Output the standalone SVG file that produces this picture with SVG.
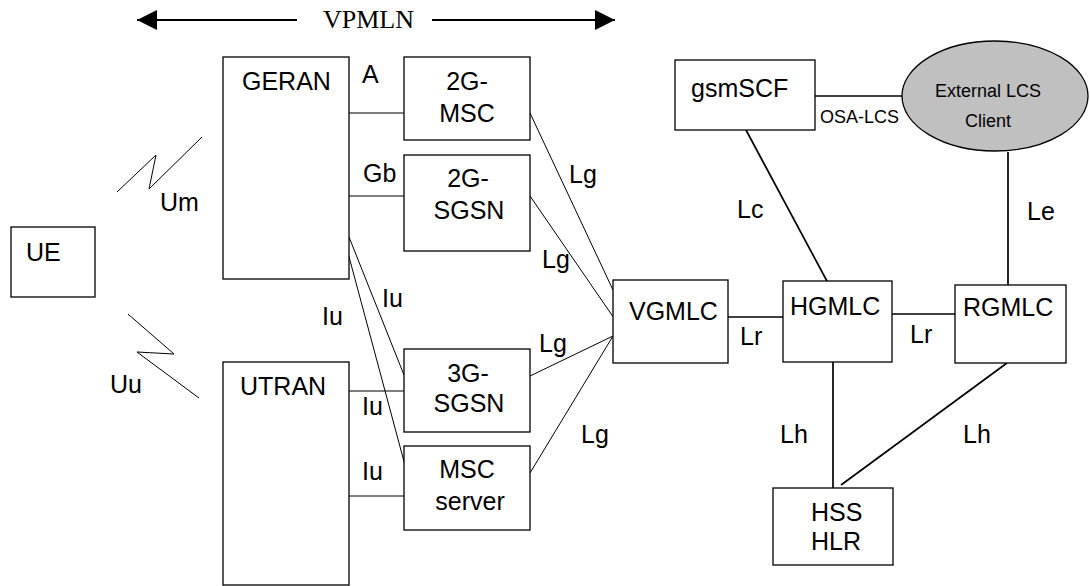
<svg xmlns="http://www.w3.org/2000/svg" width="1090" height="586" viewBox="0 0 1090 586">
<style>
  .box { fill: #ffffff; stroke: #000000; stroke-width: 1.3; }
  .t { font-family: "Liberation Sans", Arial, sans-serif; font-size: 25px; fill: #000000; }
  .s { font-family: "Liberation Sans", Arial, sans-serif; font-size: 18px; fill: #000000; }
  .m { text-anchor: middle; }
  .thin { fill: none; stroke: #000000; stroke-width: 1; }
  .thick { fill: none; stroke: #000000; stroke-width: 1.7; }
</style>
<defs>
  <marker id="ah" viewBox="0 0 20 20" refX="20" refY="10" markerWidth="20" markerHeight="20" markerUnits="userSpaceOnUse" orient="auto">
    <path d="M0,0 L20,10 L0,20 Z" fill="#000000"/>
  </marker>
</defs>
<rect width="1090" height="586" fill="#ffffff"/>

<g id="vpmln">
  <line x1="297" y1="20" x2="137" y2="20" stroke="#000" stroke-width="2" marker-end="url(#ah)"/>
  <line x1="432" y1="20" x2="615" y2="20" stroke="#000" stroke-width="2" marker-end="url(#ah)"/>
  <text x="323" y="28" style="font-family: 'Liberation Serif', 'Times New Roman', serif; font-size: 26px;">VPMLN</text>
</g>

<g id="connectors">
  <!-- radio links -->
  <polyline class="thin" points="117,192 156,155 149,189 202,137"/>
  <polyline class="thin" points="128,314 174,354 137,352 199,398"/>
  <!-- GERAN / UTRAN to core -->
  <line class="thin" x1="349" y1="113" x2="404" y2="113"/>
  <line class="thin" x1="349" y1="196" x2="404" y2="196"/>
  <line class="thin" x1="349" y1="237" x2="404" y2="375"/>
  <line class="thin" x1="348" y1="253" x2="406" y2="469"/>
  <line class="thin" x1="349" y1="391" x2="404" y2="391"/>
  <line class="thin" x1="347" y1="496" x2="404" y2="496"/>
  <!-- Lg -->
  <line class="thin" x1="530" y1="113" x2="613" y2="290"/>
  <line class="thin" x1="530" y1="196" x2="616" y2="321"/>
  <line class="thin" x1="530" y1="376" x2="613" y2="336"/>
  <line class="thin" x1="530" y1="473" x2="613" y2="336"/>
  <!-- Lr -->
  <line class="thick" x1="728" y1="317" x2="783" y2="317"/>
  <line class="thick" x1="892" y1="314" x2="955" y2="314"/>
  <!-- Lh -->
  <line class="thick" x1="833" y1="362" x2="833" y2="488"/>
  <line class="thick" x1="1007" y1="363" x2="841" y2="485"/>
  <!-- Lc, Le, OSA -->
  <line class="thick" x1="746" y1="130" x2="828" y2="283"/>
  <line class="thick" x1="1008" y1="152" x2="1008" y2="285"/>
  <line class="thick" x1="815" y1="96" x2="902" y2="96"/>
  <!-- labels -->
  <text class="t" x="160" y="211">Um</text>
  <text class="t" x="110" y="393">Uu</text>
  <text class="t" x="362" y="83">A</text>
  <text class="t" x="363" y="182">Gb</text>
  <text class="t" x="382" y="307">Iu</text>
  <text class="t" x="322" y="325">Iu</text>
  <text class="t" x="362" y="415">Iu</text>
  <text class="t" x="362" y="480">Iu</text>
  <text class="t" x="569" y="183">Lg</text>
  <text class="t" x="542" y="268">Lg</text>
  <text class="t" x="539" y="352">Lg</text>
  <text class="t" x="581" y="443">Lg</text>
  <text class="t" x="740" y="345">Lr</text>
  <text class="t" x="910" y="343">Lr</text>
  <text class="t" x="780" y="443">Lh</text>
  <text class="t" x="963" y="443">Lh</text>
  <text class="t" x="737" y="218">Lc</text>
  <text class="t" x="1027" y="220">Le</text>
  <text class="s" x="820" y="123">OSA-LCS</text>
</g>

<g id="ue">
  <rect class="box" x="11" y="227" width="84" height="70"/>
  <text class="t" x="26" y="261">UE</text>
</g>
<g id="geran">
  <rect class="box" x="223" y="57" width="126" height="222"/>
  <text class="t" x="242" y="90">GERAN</text>
</g>
<g id="utran">
  <rect class="box" x="223" y="362" width="126" height="223"/>
  <text class="t" x="240" y="395">UTRAN</text>
</g>
<g id="msc2g">
  <rect class="box" x="404" y="57" width="126" height="83"/>
  <text class="t m" x="467" y="90">2G-</text>
  <text class="t m" x="467" y="122">MSC</text>
</g>
<g id="sgsn2g">
  <rect class="box" x="404" y="155" width="126" height="96"/>
  <text class="t m" x="468" y="187">2G-</text>
  <text class="t m" x="469" y="219">SGSN</text>
</g>
<g id="sgsn3g">
  <rect class="box" x="404" y="349" width="126" height="83"/>
  <text class="t m" x="468" y="382">3G-</text>
  <text class="t m" x="469" y="412">SGSN</text>
</g>
<g id="mscserver">
  <rect class="box" x="404" y="446" width="126" height="84"/>
  <text class="t m" x="467" y="478">MSC</text>
  <text class="t m" x="470" y="510">server</text>
</g>
<g id="vgmlc">
  <rect class="box" x="613" y="280" width="115" height="83"/>
  <text class="t" x="629" y="320">VGMLC</text>
</g>
<g id="hgmlc">
  <rect class="box" x="783" y="281" width="109" height="81"/>
  <text class="t" x="790" y="315">HGMLC</text>
</g>
<g id="rgmlc">
  <rect class="box" x="955" y="285" width="111" height="78"/>
  <text class="t" x="963" y="316">RGMLC</text>
</g>
<g id="hss">
  <rect class="box" x="773" y="488" width="120" height="77"/>
  <text class="t" x="811" y="521">HSS</text>
  <text class="t" x="811" y="550">HLR</text>
</g>
<g id="gsmscf">
  <rect class="box" x="675" y="60" width="140" height="70"/>
  <text class="t" x="691" y="97">gsmSCF</text>
</g>
<g id="externallcs">
  <ellipse cx="995" cy="96" rx="93" ry="55" fill="#c0c0c0" stroke="#000" stroke-width="1.3"/>
  <text class="s m" x="988" y="97">External LCS</text>
  <text class="s m" x="988" y="127">Client</text>
</g>
</svg>
